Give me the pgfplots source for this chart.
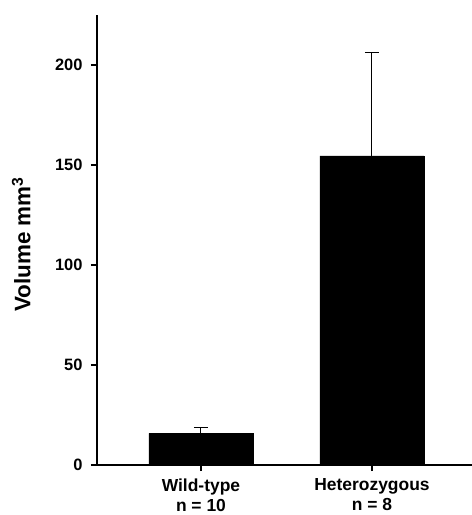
\documentclass[border=0pt]{standalone}
\usepackage{fontspec}
\setmainfont{Liberation Sans}
\usepackage{pgfplots}
\pgfplotsset{compat=1.18}
\begin{document}
\begin{tikzpicture}
\useasboundingbox (0,0) rectangle (472bp,515bp);
\begin{axis}[
  at={(97bp,50bp)}, anchor=south west,
  scale only axis, width=375bp, height=450bp,
  xmin=0.392, xmax=2.585, ymin=0, ymax=225,
  axis lines=left, axis line style={-, line width=1.3bp},
  ytick={0,50,100,150,200},
  xtick={1,2},
  xticklabels={{Wild-type\\n = 10},{Heterozygous\\n = 8}},
  xticklabel style={align=center, yshift=-4bp,
    font=\fontsize{17.5}{20.5}\selectfont\bfseries},
  yticklabel style={xshift=-5bp, font=\fontsize{16.5}{19}\selectfont\bfseries},
  /pgf/number format/assume math mode=true,
  tick align=outside, major tick length=6bp,
  tick style={line width=1.2bp, black},
  ylabel={Volume mm\textsuperscript{3}},
  ylabel style={font=\fontsize{22.5}{26}\selectfont\bfseries,
    at={(axis description cs:-0.168,0.49)}, anchor=south},
]
\addplot[ybar, bar width=104bp, fill=black, draw=black,
  error bars/.cd, y dir=plus, y explicit,
  error bar style={line width=1bp, black},
  error mark options={rotate=90, mark size=7bp, line width=1bp, black}]
  coordinates {(1,15.8) +- (0,2.8) (2,154.5) +- (0,51.5)};
\end{axis}
\end{tikzpicture}
\end{document}
